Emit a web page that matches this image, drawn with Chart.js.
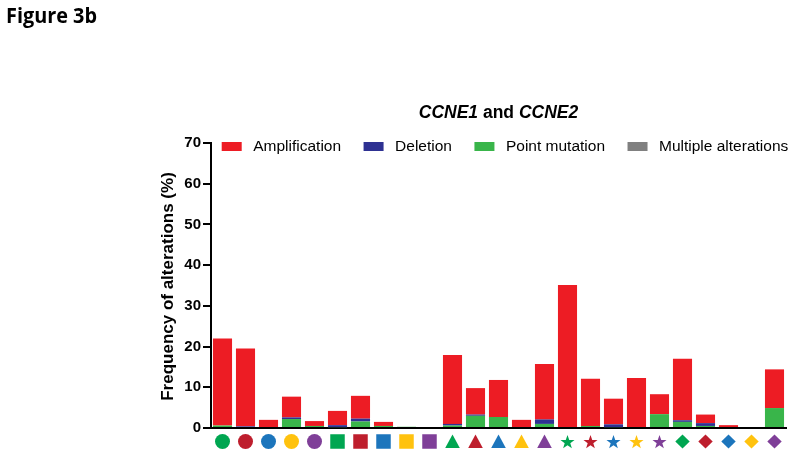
<!DOCTYPE html>
<html>
<head>
<meta charset="utf-8">
<script src="https://cdn.jsdelivr.net/npm/chart.js@4.4.1/dist/chart.umd.min.js"></script>
<style>
  html, body { margin: 0; padding: 0; background: #ffffff; }
  #wrap { width: 800px; height: 463px; position: relative; }
</style>
</head>
<body>
<div id="wrap"><canvas id="c" width="800" height="463"></canvas></div>
<script>
// ---- data ----
const markerShapes = ['circle','circle','circle','circle','circle',
                      'square','square','square','square','square',
                      'triangle','triangle','triangle','triangle','triangle',
                      'star','star','star','star','star',
                      'diamond','diamond','diamond','diamond','diamond'];
const markerColors = ['#00A651','#BE1E2D','#1C75BC','#FFC20E','#7F3F98',
                      '#00A651','#BE1E2D','#1C75BC','#FFC20E','#7F3F98',
                      '#00A651','#BE1E2D','#1C75BC','#FFC20E','#7F3F98',
                      '#00A651','#BE1E2D','#1C75BC','#FFC20E','#7F3F98',
                      '#00A651','#BE1E2D','#1C75BC','#FFC20E','#7F3F98'];
const categories = markerShapes.map((s, i) => s + ' ' + (i % 5 + 1));

const pointMutation = [0.6, 0.0, 0.0, 2.2, 0.5, 0.2, 1.6, 0.5, 0.3, 0.0,
                       0.6, 3.0, 2.7, 0.0, 1.0, 0.0, 0.5, 0.2, 0.0, 3.4,
                       1.5, 0.5, 0.0, 0.0, 4.9];
const deletion      = [0.0, 0.4, 0.0, 0.4, 0.0, 0.5, 0.7, 0.0, 0.0, 0.0,
                       0.4, 0.3, 0.0, 0.0, 1.1, 0.0, 0.0, 0.7, 0.0, 0.0,
                       0.4, 0.7, 0.0, 0.0, 0.0];
const amplification = [21.4, 19.1, 2.0, 5.1, 1.2, 3.5, 5.6, 1.0, 0.0, 0.0,
                       16.9, 6.5, 9.1, 2.0, 13.6, 35.1, 11.6, 6.3, 12.3, 4.9,
                       15.1, 2.1, 0.7, 0.0, 9.5];
const multipleAlterations = [0,0,0,0,0,0,0,0,0,0,0,0,0,0,0,0,0,0,0,0,0,0,0,0,0];

const yTicks = [0, 10, 20, 30, 40, 50, 60, 70];
const legendOrder = ['Amplification', 'Deletion', 'Point mutation', 'Multiple alterations'];

const COLORS = {
  'Amplification': '#ED1C24',
  'Deletion': '#2E3192',
  'Point mutation': '#39B54A',
  'Multiple alterations': '#808080'
};

const FONT = '"Liberation Sans", Arial, sans-serif';

function drawMarker(ctx, shape, x, y, color) {
  ctx.save();
  ctx.fillStyle = color;
  ctx.beginPath();
  if (shape === 'circle') {
    ctx.arc(x, y, 7.5, 0, Math.PI * 2);
  } else if (shape === 'square') {
    ctx.rect(x - 7.25, y - 7.25, 14.5, 14.5);
  } else if (shape === 'triangle') {
    ctx.moveTo(x, y - 7);
    ctx.lineTo(x + 7.3, y + 6.5);
    ctx.lineTo(x - 7.3, y + 6.5);
    ctx.closePath();
  } else if (shape === 'diamond') {
    ctx.moveTo(x, y - 7);
    ctx.lineTo(x + 7.2, y);
    ctx.lineTo(x, y + 7);
    ctx.lineTo(x - 7.2, y);
    ctx.closePath();
  } else if (shape === 'star') {
    const R = 7.4, r = R * 0.4;
    const cy = y + 0.8;
    for (let k = 0; k < 10; k++) {
      const rad = (k % 2 === 0) ? R : r;
      const a = -Math.PI / 2 + k * Math.PI / 5;
      const px = x + rad * Math.cos(a), py = cy + rad * Math.sin(a);
      if (k === 0) ctx.moveTo(px, py); else ctx.lineTo(px, py);
    }
    ctx.closePath();
  }
  ctx.fill();
  ctx.restore();
}

const decorPlugin = {
  id: 'decor',
  afterDraw(chart) {
    const ctx = chart.ctx;
    const xs = chart.scales.x;
    const ys = chart.scales.y;
    const area = chart.chartArea;

    // markers under the axis
    categories.forEach((c, i) => {
      drawMarker(ctx, markerShapes[i], xs.getPixelForValue(i), area.bottom + 13.5, markerColors[i]);
    });

    // Figure label
    ctx.save();
    ctx.fillStyle = '#000';
    ctx.textBaseline = 'alphabetic';
    ctx.textAlign = 'left';
    ctx.font = 'bold 22px "Open Sans", "Noto Sans", sans-serif';
    const fw = ctx.measureText('Figure 3b').width;
    ctx.translate(6, 23);
    ctx.scale(91 / fw, 1);
    ctx.fillText('Figure 3b', 0, 0);
    ctx.restore();

    // Chart title with mixed styles
    ctx.save();
    ctx.fillStyle = '#000';
    ctx.textBaseline = 'alphabetic';
    const segs = [
      { t: 'CCNE1', f: 'italic bold 17.5px ' + FONT },
      { t: ' and ', f: 'bold 17.5px ' + FONT },
      { t: 'CCNE2', f: 'italic bold 17.5px ' + FONT }
    ];
    let total = 0;
    segs.forEach(s => { ctx.font = s.f; s.w = ctx.measureText(s.t).width; total += s.w; });
    let tx = 498.5 - total / 2;
    segs.forEach(s => { ctx.font = s.f; ctx.textAlign = 'left'; ctx.fillText(s.t, tx, 118); tx += s.w; });
    ctx.restore();

    // Y axis title
    ctx.save();
    ctx.translate(168, (ys.getPixelForValue(0) + ys.getPixelForValue(70)) / 2 + 1);
    ctx.rotate(-Math.PI / 2);
    ctx.fillStyle = '#000';
    ctx.font = 'bold 17px ' + FONT;
    ctx.textAlign = 'center';
    ctx.textBaseline = 'middle';
    ctx.fillText('Frequency of alterations (%)', 0, 0);
    ctx.restore();

    // Legend
    ctx.save();
    ctx.font = '15.5px ' + FONT;
    ctx.textBaseline = 'middle';
    ctx.textAlign = 'left';
    let lx = 221.7;
    const ly = ys.getPixelForValue(70) + 3.5;
    legendOrder.forEach(name => {
      ctx.fillStyle = COLORS[name];
      ctx.fillRect(lx, ly - 4.5, 20, 9);
      ctx.fillStyle = '#000';
      ctx.fillText(name, lx + 31.5, ly + 0.5);
      lx += 31.5 + ctx.measureText(name).width + 22.5;
    });
    ctx.restore();
  }
};

const data = {
  labels: categories,
  datasets: [
    { label: 'Point mutation', data: pointMutation, backgroundColor: COLORS['Point mutation'] },
    { label: 'Deletion', data: deletion, backgroundColor: COLORS['Deletion'] },
    { label: 'Amplification', data: amplification, backgroundColor: COLORS['Amplification'] },
    { label: 'Multiple alterations', data: multipleAlterations, backgroundColor: COLORS['Multiple alterations'] }
  ]
};

new Chart(document.getElementById('c'), {
  type: 'bar',
  data: data,
  plugins: [decorPlugin],
  options: {
    responsive: false,
    animation: false,
    devicePixelRatio: 1,
    datasets: { bar: { categoryPercentage: 1.0, barPercentage: 0.83, borderWidth: 0 } },
    layout: { padding: { left: 0, right: 14, top: 143, bottom: 0 } },
    plugins: { legend: { display: false }, title: { display: false }, tooltip: { enabled: false } },
    scales: {
      x: {
        stacked: true,
        ticks: { display: false },
        grid: { display: false },
        border: { display: true, color: '#000', width: 2 },
        afterFit: s => { s.height = 35; }
      },
      y: {
        stacked: true,
        min: 0,
        max: 70,
        afterBuildTicks: s => { s.ticks = yTicks.map(v => ({ value: v })); },
        ticks: { color: '#000', font: { family: FONT, size: 15, weight: 'bold' }, padding: 2 },
        grid: { display: true, drawOnChartArea: false, drawTicks: true, tickLength: 8, color: '#000', lineWidth: 2 },
        border: { display: true, color: '#000', width: 2 },
        afterFit: s => { s.width = 211; }
      }
    }
  }
});
</script>
</body>
</html>
